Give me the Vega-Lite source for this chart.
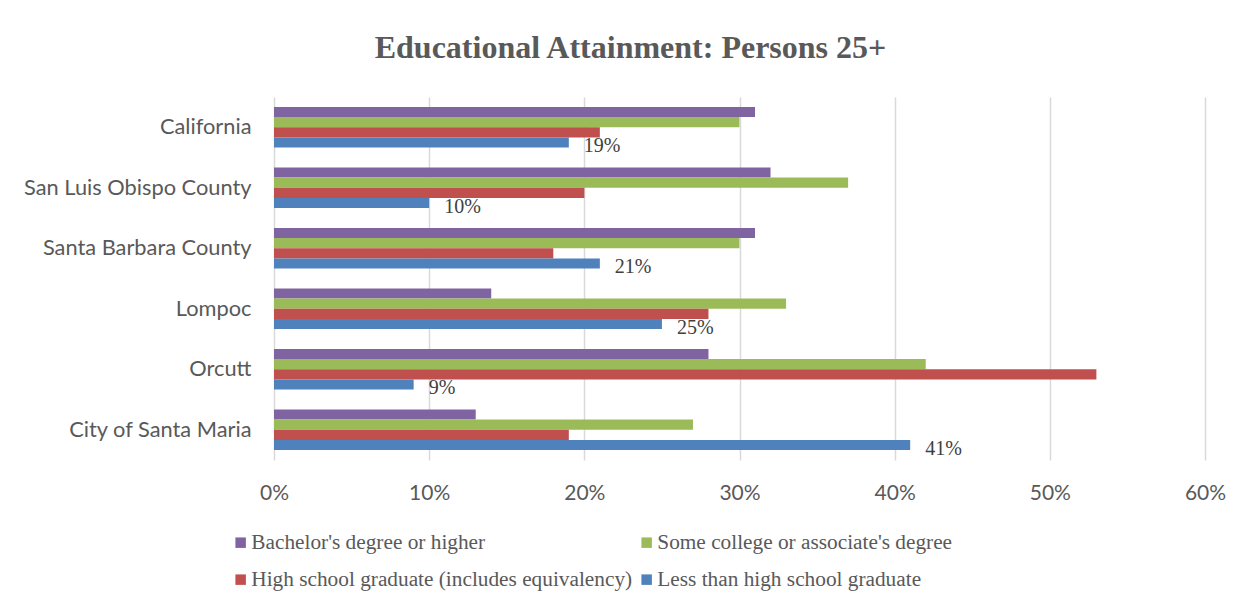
{
  "$schema": "https://vega.github.io/schema/vega-lite/v6.json",
  "autosize": {"type": "none"},
  "padding": {"left": 274, "top": 97, "right": 48, "bottom": 151},
  "width": 931,
  "height": 363,
  "background": "white",
  "title": {
    "text": "Educational Attainment: Persons 25+",
    "font": "Liberation Serif",
    "fontSize": 32,
    "fontWeight": "bold",
    "color": "#595959",
    "frame": "group",
    "anchor": "middle",
    "baseline": "alphabetic",
    "dx": -109,
    "offset": 7
  },
  "data": {
    "values": [
      {"place": "California", "level": "Bachelor's degree or higher", "value": 0.31},
      {"place": "California", "level": "Some college or associate's degree", "value": 0.30},
      {"place": "California", "level": "High school graduate (includes equivalency)", "value": 0.21},
      {"place": "California", "level": "Less than high school graduate", "value": 0.19},
      {"place": "San Luis Obispo County", "level": "Bachelor's degree or higher", "value": 0.32},
      {"place": "San Luis Obispo County", "level": "Some college or associate's degree", "value": 0.37},
      {"place": "San Luis Obispo County", "level": "High school graduate (includes equivalency)", "value": 0.20},
      {"place": "San Luis Obispo County", "level": "Less than high school graduate", "value": 0.10},
      {"place": "Santa Barbara County", "level": "Bachelor's degree or higher", "value": 0.31},
      {"place": "Santa Barbara County", "level": "Some college or associate's degree", "value": 0.30},
      {"place": "Santa Barbara County", "level": "High school graduate (includes equivalency)", "value": 0.18},
      {"place": "Santa Barbara County", "level": "Less than high school graduate", "value": 0.21},
      {"place": "Lompoc", "level": "Bachelor's degree or higher", "value": 0.14},
      {"place": "Lompoc", "level": "Some college or associate's degree", "value": 0.33},
      {"place": "Lompoc", "level": "High school graduate (includes equivalency)", "value": 0.28},
      {"place": "Lompoc", "level": "Less than high school graduate", "value": 0.25},
      {"place": "Orcutt", "level": "Bachelor's degree or higher", "value": 0.28},
      {"place": "Orcutt", "level": "Some college or associate's degree", "value": 0.42},
      {"place": "Orcutt", "level": "High school graduate (includes equivalency)", "value": 0.53},
      {"place": "Orcutt", "level": "Less than high school graduate", "value": 0.09},
      {"place": "City of Santa Maria", "level": "Bachelor's degree or higher", "value": 0.13},
      {"place": "City of Santa Maria", "level": "Some college or associate's degree", "value": 0.27},
      {"place": "City of Santa Maria", "level": "High school graduate (includes equivalency)", "value": 0.19},
      {"place": "City of Santa Maria", "level": "Less than high school graduate", "value": 0.41}
    ]
  },
  "encoding": {
    "y": {
      "field": "place",
      "type": "nominal",
      "sort": ["California", "San Luis Obispo County", "Santa Barbara County", "Lompoc", "Orcutt", "City of Santa Maria"],
      "scale": {"paddingInner": 0.33, "paddingOuter": 0.165},
      "axis": {
        "title": null,
        "domain": false,
        "ticks": false,
        "labelFont": "Lato",
        "labelFontSize": 21.8,
        "labelColor": "#595959",
        "labelPadding": 23,
        "labelLimit": 400
      }
    },
    "yOffset": {
      "field": "level",
      "type": "nominal",
      "sort": ["Bachelor's degree or higher", "Some college or associate's degree", "High school graduate (includes equivalency)", "Less than high school graduate"],
      "scale": {"paddingInner": 0, "paddingOuter": 0}
    },
    "x": {
      "field": "value",
      "type": "quantitative",
      "scale": {"domain": [0, 0.6], "nice": false},
      "axis": {
        "title": null,
        "format": ".0%",
        "values": [0, 0.1, 0.2, 0.3, 0.4, 0.5, 0.6],
        "domain": false,
        "ticks": false,
        "grid": true,
        "gridColor": "#d9d9d9",
        "gridWidth": 1.5,
        "labelFlush": false,
        "labelFont": "Lato",
        "labelFontSize": 21,
        "labelColor": "#595959",
        "labelPadding": 22
      }
    }
  },
  "layer": [
    {
      "mark": {"type": "bar"},
      "encoding": {
        "color": {
          "field": "level",
          "type": "nominal",
          "scale": {
            "domain": ["Bachelor's degree or higher", "Some college or associate's degree", "High school graduate (includes equivalency)", "Less than high school graduate"],
            "range": ["#8064A2", "#9BBB59", "#C0504D", "#4F81BD"]
          },
          "legend": {
            "title": null,
            "orient": "none",
            "legendX": -44,
            "legendY": 435,
            "direction": "horizontal",
            "columns": 2,
            "columnPadding": 3,
            "rowPadding": 15,
            "padding": 0,
            "symbolType": "square",
            "symbolSize": 110,
            "symbolStrokeWidth": 0,
            "labelFont": "Liberation Serif",
            "labelFontSize": 21.3,
            "labelColor": "#595959",
            "labelOffset": 0,
            "labelLimit": 500
          }
        }
      }
    },
    {
      "transform": [{"filter": "datum.level === 'Less than high school graduate'"}],
      "mark": {
        "type": "text",
        "align": "left",
        "baseline": "middle",
        "dx": 15,
        "dy": 4,
        "font": "Liberation Serif",
        "fontSize": 20,
        "color": "#404040"
      },
      "encoding": {
        "text": {"field": "value", "type": "quantitative", "format": ".0%"}
      }
    }
  ],
  "config": {"view": {"stroke": null}}
}
